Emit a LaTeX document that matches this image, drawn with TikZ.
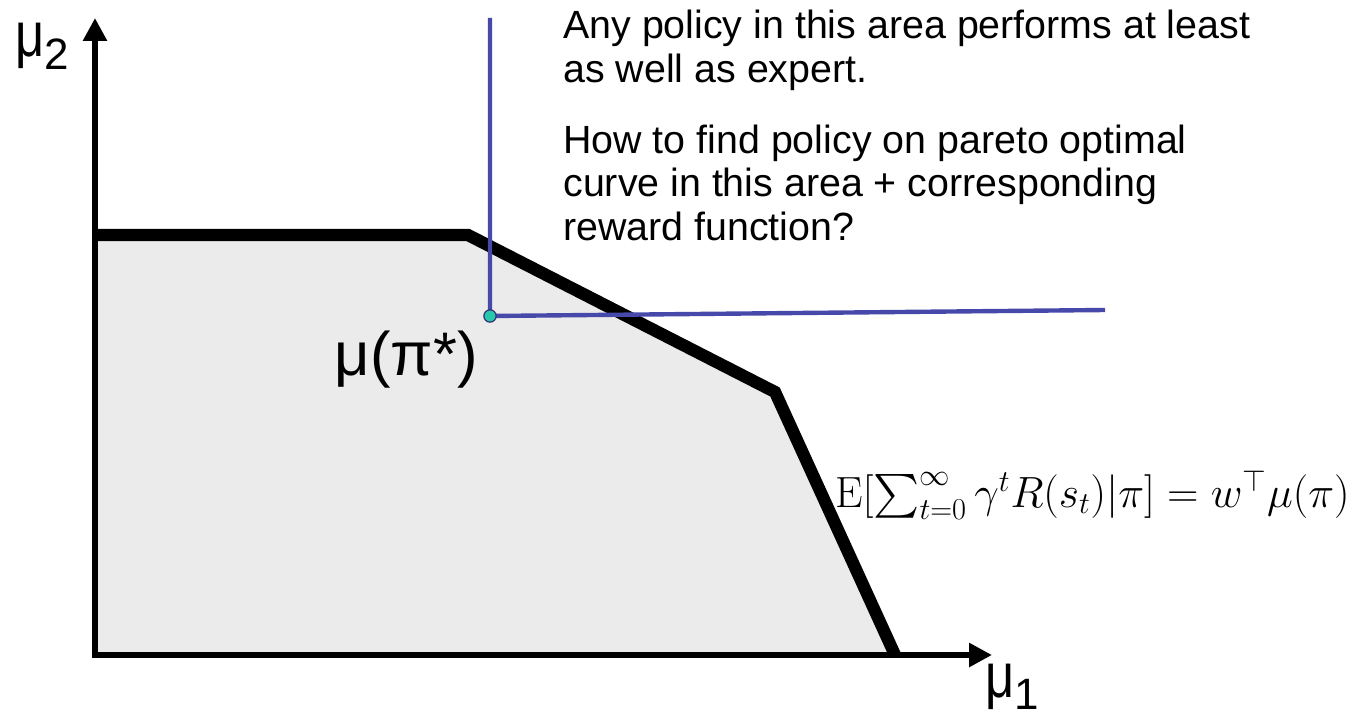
\documentclass[tikz,border=0pt]{standalone}
\usepackage{exscale}
\usepackage[no-math]{fontspec}
\setmainfont{Liberation Sans}
\usetikzlibrary{arrows.meta,positioning}

\definecolor{boundblue}{RGB}{70,72,170}
\definecolor{dotteal}{RGB}{40,200,170}
\newcommand{\mulabel}[1]{\fontsize{36}{36}\selectfont \scalebox{0.8}[1]{μ}\raisebox{-7pt}{\fontsize{25}{25}\selectfont #1}}

\begin{document}
\begin{tikzpicture}[x=0.02cm, y=-0.02cm,
  >={Triangle[length=13pt,width=13pt]},
  axis/.style={line width=3.4pt},
  front/.style={line width=7pt, line join=miter},
  region/.style={fill=black!8},
  bound/.style={draw=boundblue, line width=2.5pt},
  dot/.style={circle, draw=boundblue!70!black, fill=dotteal, line width=0.7pt, inner sep=0pt, minimum size=7pt},
  note/.style={align=left, inner sep=0pt, font=\fontsize{22.4}{25}\selectfont}]

  \useasboundingbox (0,0) rectangle (1359,716);

  % --- feasible set and its pareto front ---
  \coordinate (O) at (95,655);
  \coordinate (a) at (95,235);
  \coordinate (b) at (468,235);
  \coordinate (c) at (775,392);
  \coordinate (d) at (895,655);
  \fill[region] (O) -- (a) -- (b) -- (c) -- (d) -- cycle;
  \draw[front] (a) -- (b) -- (c) -- (d);

  % --- axes ---
  \coordinate (ytip) at (95,18);
  \coordinate (xtip) at (992,655);
  \draw[axis,<->] (ytip) |- (xtip);
  \node[anchor=base west, inner sep=0pt] (mu2) at (15,57) {\mulabel{2}};
  \node[anchor=base west, inner sep=0pt] (mu1) at (985,697) {\mulabel{1}};

  % --- expert and the area that dominates it ---
  \coordinate (P) at (490,316);
  \coordinate (up) at (490,18);
  \coordinate (right) at (1105,310);
  \draw[bound] (up) -- (P) -- (right);
  \node[dot] (expert) at (P) {};
  \node[anchor=base east, inner sep=0pt, font=\fontsize{35}{35}\selectfont] (mustar) at (478,375) {μ(π*)};

  % --- remarks ---
  \node[note, anchor=north west] (remark) at (563,10)
    {Any policy in this area performs at least\\as well as expert.\\[15pt]
     How to find policy on pareto optimal\\curve in this area + corresponding\\reward function?};
  \node[anchor=base east, inner sep=0pt, font=\fontsize{26}{30}\selectfont] (value) at (1350,507)
    {$\mathrm{E}[\sum_{t=0}^{\infty}\gamma^t R(s_t)|\pi] = w^\top\mu(\pi)$};
\end{tikzpicture}
\end{document}
